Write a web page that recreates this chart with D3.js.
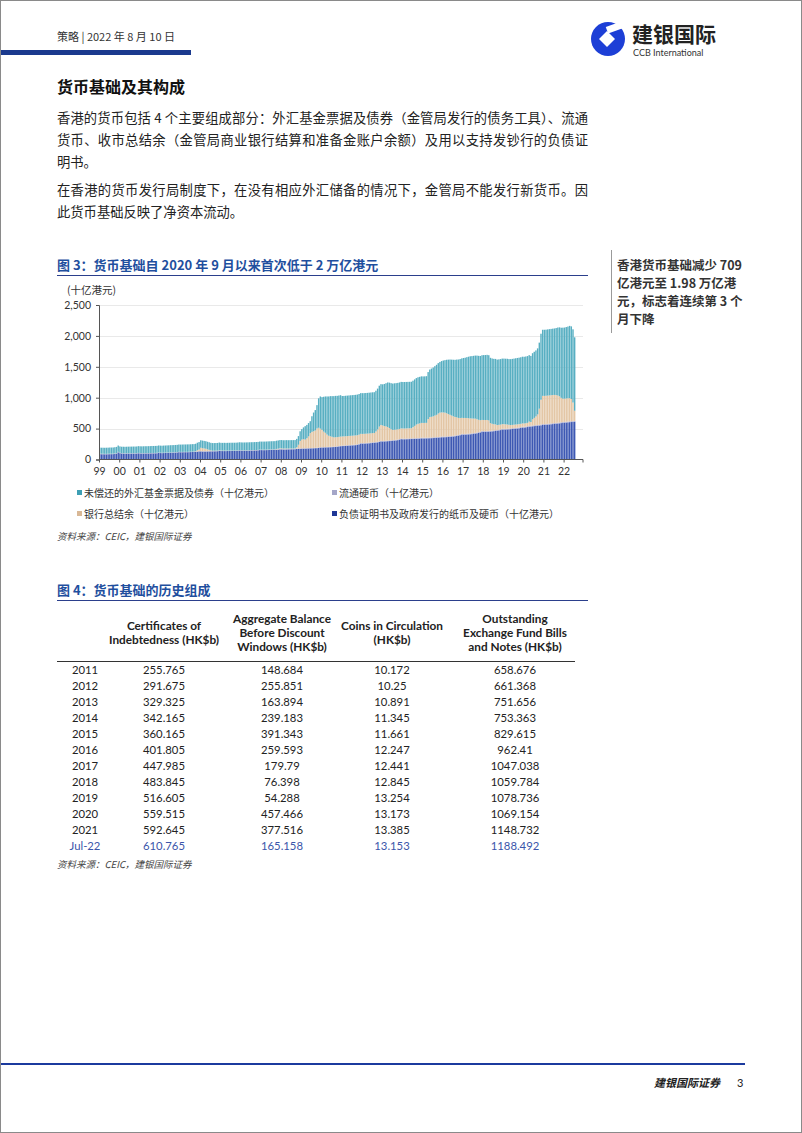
<!DOCTYPE html>
<html>
<head>
<meta charset="utf-8">
<script src="https://cdn.jsdelivr.net/npm/d3@7"></script>
<style>
  body { margin: 0; background: #fff; }
  svg { display: block; }
</style>
</head>
<body>
<svg id="page" width="802" height="1133"></svg>
<script>
// monthly series, Jan 1999 - Jul 2022 (HK$ bn)
const startYear = 1999;

const ciVals = [
  86,85,85,84,84,85,86,86,87,90,95,115,
  102,96,95,94,94,95,95,95,95,95,96,100,
  97,96,96,97,97,97,98,99,99,100,101,106,
  104,103,104,105,106,107,108,109,110,111,113,118,
  117,117,118,118,118,119,120,121,122,123,125,130,
  130,128,128,128,129,130,131,131,132,133,134,140,
  137,136,136,136,137,137,138,138,138,139,140,144,
  142,141,141,141,142,143,144,144,145,146,148,152,
  152,151,151,152,153,154,155,155,156,157,159,163,
  163,161,161,162,163,164,165,165,166,170,172,173,
  175,175,176,177,178,179,180,181,183,184,187,192,
  193,194,195,196,197,198,200,201,203,206,210,215,
  217,218,220,222,224,226,228,230,232,236,244,256,
  255,256,258,260,262,265,268,270,273,277,283,292,
  291,292,294,296,298,300,303,306,309,313,320,329,
  327,327,328,329,330,331,332,333,334,336,338,342,
  341,341,342,343,344,345,347,349,351,353,356,360,
  360,361,362,364,366,369,372,376,380,386,393,402,
  401,402,404,406,408,411,415,419,424,430,438,448,
  447,447,448,450,452,455,458,461,465,470,476,484,
  483,484,486,488,490,493,496,499,502,505,510,517,
  516,520,525,530,533,537,540,543,546,549,553,560,
  559,561,564,567,570,573,576,579,582,585,589,593,
  595,598,601,604,606,608,611
];

const coinVals = [
  5.9,5.8,5.8,5.8,5.8,5.8,5.8,5.8,5.8,5.8,5.9,6.1,
  5.9,5.8,5.8,5.8,5.8,5.8,5.8,5.8,5.8,5.8,5.8,5.9,
  5.8,5.8,5.8,5.8,5.8,5.8,5.8,5.8,5.8,5.8,5.8,5.9,
  5.8,5.8,5.8,5.8,5.8,5.8,5.8,5.8,5.8,5.8,5.8,5.9,
  5.8,5.8,5.8,5.8,5.8,5.8,5.8,5.9,5.9,5.9,5.9,6.0,
  6.0,5.9,5.9,5.9,5.9,5.9,5.9,5.9,5.9,6.0,6.0,6.1,
  6.0,6.0,6.0,6.0,6.0,6.0,6.0,6.0,6.0,6.0,6.1,6.2,
  6.1,6.1,6.1,6.1,6.1,6.1,6.1,6.1,6.1,6.2,6.2,6.3,
  6.2,6.2,6.2,6.2,6.2,6.3,6.3,6.3,6.3,6.4,6.4,6.5,
  6.4,6.4,6.4,6.4,6.4,6.5,6.5,6.5,6.5,6.6,6.6,6.7,
  6.6,6.6,6.6,6.6,6.7,6.7,6.7,6.7,6.8,6.8,6.9,7.0,
  7.0,7.0,7.1,7.1,7.2,7.3,7.4,7.5,7.6,7.8,8.0,8.3,
  8.4,8.5,8.6,8.7,8.9,9.0,9.2,9.4,9.6,9.8,10.0,10.2,
  10.2,10.2,10.2,10.2,10.2,10.2,10.2,10.2,10.2,10.2,10.2,10.3,
  10.3,10.3,10.4,10.4,10.5,10.5,10.6,10.6,10.7,10.7,10.8,10.9,
  10.9,10.9,11.0,11.0,11.0,11.1,11.1,11.2,11.2,11.3,11.3,11.3,
  11.3,11.3,11.3,11.4,11.4,11.4,11.5,11.5,11.5,11.6,11.6,11.7,
  11.7,11.7,11.8,11.8,11.9,11.9,12.0,12.0,12.1,12.1,12.2,12.2,
  12.2,12.2,12.2,12.3,12.3,12.3,12.3,12.4,12.4,12.4,12.4,12.4,
  12.4,12.4,12.5,12.5,12.5,12.6,12.6,12.6,12.7,12.7,12.8,12.8,
  12.8,12.8,12.9,12.9,12.9,13.0,13.0,13.1,13.1,13.1,13.2,13.3,
  13.2,13.2,13.2,13.2,13.2,13.2,13.2,13.2,13.2,13.2,13.2,13.2,
  13.2,13.2,13.2,13.2,13.3,13.3,13.3,13.3,13.3,13.3,13.4,13.4,
  13.3,13.3,13.2,13.2,13.2,13.2,13.2
];

const abVals = [
  2.5,3,2,2,2,2,2,2,2,2,2,3,
  1,1,1,1,1,1,1,1,1,1,1,1,
  1,1,1,1,1,1,1,1,1,1,1,1,
  0.5,0.5,0.5,0.5,0.5,0.5,0.5,0.5,0.5,0.5,0.5,0.5,
  0.5,0.5,0.5,0.5,0.5,0.5,0.5,0.5,0.5,5,20,25,
  54,50,45,40,30,20,10,6,5,4,4,4,
  3,3,3,2,2,1.5,1.5,1.5,1.5,1.5,1.5,1.5,
  1.5,1.5,1.5,1.5,1.5,1.5,1.5,1.5,1.5,1.5,1.5,2,
  1.5,2,2,2,2,2,2,2,2,8,10,11,
  11,10,10,10,8,7,6,6,6,20,60,120,
  140,150,140,160,190,240,260,270,280,310,320,300,
  280,250,230,200,180,170,160,150,150,148,148,148,
  148,148,148,148,148,148,148,148,148,148,148,149,
  149,149,149,149,149,149,149,149,170,200,240,256,
  250,240,230,220,200,180,165,165,165,165,164,164,
  164,164,164,164,164,164,180,200,220,230,235,239,
  239,240,240,300,330,335,340,350,360,380,391,391,
  390,385,375,360,345,330,315,300,290,275,265,260,
  259,258,255,250,245,240,235,230,215,200,185,180,
  180,179,179,170,125,110,100,95,80,78,76,76,
  76,72,68,60,55,54,54,54,54,54,54,54,
  54,54,55,70,60,100,120,140,170,260,400,457,
  457,457,457,457,457,457,456,450,440,425,395,378,
  377,377,377,375,360,300,165
];

const efVals = [
  97,97,98,98,99,99,100,100,100,101,101,102,
  103,104,105,105,106,106,107,107,108,108,108,109,
  110,110,111,111,111,112,112,113,113,113,113,114,
  114,114,115,115,116,116,117,117,117,118,118,118,
  118,119,119,119,120,120,120,121,121,121,121,121,
  121,122,122,122,122,123,123,123,123,124,124,124,
  124,124,125,125,125,126,126,126,126,126,127,127,
  127,127,127,128,128,128,128,129,129,129,129,130,
  130,131,131,131,132,132,132,133,133,133,133,134,
  134,134,135,135,135,136,136,136,136,137,140,157,
  170,188,217,216,215,194,253,302,330,379,476,521,
  530,564,588,617,636,650,658,667,669,668,669,669,
  654,654,655,655,656,656,656,657,657,657,658,659,
  659,659,659,659,660,660,660,660,660,660,661,661,
  665,680,700,720,735,745,750,751,751,751,752,752,
  752,752,752,752,752,752,752,752,752,753,753,753,
  753,753,755,760,770,780,790,800,810,815,820,830,
  840,850,865,880,895,905,915,925,935,945,955,962,
  970,975,985,995,1005,1010,1015,1020,1030,1035,1040,1047,
  1050,1052,1054,1055,1056,1057,1058,1059,1059,1060,1060,1060,
  1061,1062,1063,1064,1066,1068,1070,1072,1074,1076,1077,1079,
  1079,1080,1080,1075,1070,1070,1070,1069,1069,1069,1069,1069,
  1070,1070,1071,1072,1073,1074,1075,1085,1100,1115,1135,1149,
  1150,1155,1160,1170,1175,1185,1188
];

const yTicks = [0, 500, 1000, 1500, 2000, 2500];
const yearLabels = ["99","00","01","02","03","04","05","06","07","08","09","10",
  "11","12","13","14","15","16","17","18","19","20","21","22"];

const seriesNames = ["负债证明书及政府发行的纸币及硬币（十亿港元）", "流通硬币（十亿港元）",
  "银行总结余（十亿港元）", "未偿还的外汇基金票据及债券（十亿港元）"];

// table (fig 4)
const tblYears = ["2011","2012","2013","2014","2015","2016","2017","2018","2019","2020","2021","Jul-22"];
const tblCI = ["255.765","291.675","329.325","342.165","360.165","401.805","447.985","483.845","516.605","559.515","592.645","610.765"];
const tblAB = ["148.684","255.851","163.894","239.183","391.343","259.593","179.79","76.398","54.288","457.466","377.516","165.158"];
const tblCoins = ["10.172","10.25","10.891","11.345","11.661","12.247","12.441","12.845","13.254","13.173","13.385","13.153"];
const tblEF = ["658.676","661.368","751.656","753.363","829.615","962.41","1047.038","1059.784","1078.736","1069.154","1148.732","1188.492"];

const CJK = "'Noto Sans CJK SC', 'Noto Sans', sans-serif";
const LAT = "Lato, 'Noto Sans', sans-serif";
const BLUE = "#1f4f9e";

const svg = d3.select("#page");

function txt(x, y, s, opt) {
  opt = opt || {};
  const t = svg.append("text")
    .attr("x", x).attr("y", y)
    .attr("font-family", opt.font || CJK)
    .attr("font-size", opt.size || 12)
    .attr("fill", opt.color || "#222")
    .attr("text-anchor", opt.anchor || "start")
    .text(s);
  if (opt.weight) t.attr("font-weight", opt.weight);
  if (opt.italic) t.attr("font-style", "italic");
  if (opt.len) t.attr("textLength", opt.len).attr("lengthAdjust", "spacing");
  return t;
}

// page frame
svg.append("rect").attr("x", 0.5).attr("y", 0.5).attr("width", 801).attr("height", 1132)
  .attr("fill", "none").attr("stroke", "#8a8a8a");

// ---- header ----
txt(57, 41, "策略 | 2022 年 8 月 10 日", {size: 11, color: "#333"}).attr("xml:space", "preserve");
svg.append("rect").attr("x", 1).attr("y", 50).attr("width", 190).attr("height", 5).attr("fill", "#1b3a8e");

// logo, rough
const logo = svg.append("g").attr("transform", "translate(608,39)");
logo.append("circle").attr("r", 17).attr("fill", "#1d3fd6");
logo.append("path").attr("d", "M-1,-8 L7,0 L-1,8 L-9,0 Z").attr("fill", "#fff");
logo.append("rect").attr("x", 2).attr("y", -12).attr("width", 17).attr("height", 7).attr("fill", "#fff")
  .attr("transform", "rotate(-20)");
txt(632, 42, "建银国际", {size: 21, weight: "bold", color: "#222"});
txt(633, 56, "CCB International", {size: 9, font: LAT, color: "#333"});

// ---- intro text ----
txt(57, 93, "货币基础及其构成", {size: 16, weight: "bold", color: "#111"});
txt(57, 123, "香港的货币包括 4 个主要组成部分：外汇基金票据及债券（金管局发行的债务工具）、流通", {size: 13.3, len: 531, color: "#222"});
txt(57, 145, "货币、收市总结余（金管局商业银行结算和准备金账户余额）及用以支持发钞行的负债证", {size: 13.3, len: 531, color: "#222"});
txt(57, 167, "明书。", {size: 13.3, color: "#222"});
txt(57, 195, "在香港的货币发行局制度下，在没有相应外汇储备的情况下，金管局不能发行新货币。因", {size: 13.3, len: 531, color: "#222"});
txt(57, 217, "此货币基础反映了净资本流动。", {size: 13.3, color: "#222"});

// ---- fig 3 ----
txt(57, 270, "图 3：货币基础自 2020 年 9 月以来首次低于 2 万亿港元", {size: 13, weight: "bold", color: BLUE});
svg.append("line").attr("x1", 57).attr("x2", 588).attr("y1", 275.5).attr("y2", 275.5)
  .attr("stroke", "#2b3f8c").attr("stroke-width", 1.2);
txt(67, 294, "(十亿港元)", {size: 10.5, color: "#333"});

// side note
svg.append("line").attr("x1", 611.5).attr("x2", 611.5).attr("y1", 250).attr("y2", 333)
  .attr("stroke", "#9a9a9a");
["香港货币基础减少 709", "亿港元至 1.98 万亿港", "元，标志着连续第 3 个", "月下降"].forEach((s, i) => {
  txt(617, 270 + i * 18, s, {size: 12.5, weight: "bold", color: "#333"});
});

const plot = {left: 99, right: 583, top: 305, bottom: 459.5};
const nMonths = ciVals.length;
const monthW = 20.2 / 12;

const rows = d3.range(nMonths).map(i => ({
  i: i, ci: ciVals[i], coin: coinVals[i], ab: abVals[i], ef: efVals[i]
}));
const keys = ["ci", "coin", "ab", "ef"];
const colors = {ci: "#3d58b3", coin: "#a7a9cc", ab: "#e3c6a5", ef: "#58afc2"};
const legendColors = {ci: "#1f3796", coin: "#a4a6c8", ab: "#d9b896", ef: "#3d9fb4"};

const x = d3.scaleBand()
  .domain(d3.range(nMonths))
  .range([plot.left, plot.left + nMonths * monthW])
  .paddingInner(0.16);
const y = d3.scaleLinear().domain([0, 2500]).range([plot.bottom, plot.top]);

// grid
svg.append("g").selectAll("line").data(yTicks.slice(1)).join("line")
  .attr("x1", plot.left).attr("x2", plot.right)
  .attr("y1", d => Math.round(y(d)) + 0.5).attr("y2", d => Math.round(y(d)) + 0.5)
  .attr("stroke", "#e9e9e9");

const stacked = d3.stack().keys(keys)(rows);
svg.append("g").selectAll("g").data(stacked).join("g")
  .attr("fill", d => colors[d.key])
  .selectAll("rect").data(d => d).join("rect")
  .attr("x", d => x(d.data.i))
  .attr("width", x.bandwidth())
  .attr("y", d => y(d[1]))
  .attr("height", d => Math.max(0, y(d[0]) - y(d[1])));

// y axis
const yAxis = svg.append("g").attr("transform", `translate(${plot.left},0)`)
  .call(d3.axisLeft(y).tickValues(yTicks).tickSize(3).tickFormat(d3.format(",")));
yAxis.select(".domain").attr("stroke", "#555");
yAxis.selectAll(".tick line").attr("stroke", "#555");
yAxis.selectAll("text").attr("font-family", LAT).attr("font-size", 10.5).attr("fill", "#333").attr("dx", "-2");

// x axis - ticks on january of each year
const xYear = d3.scaleLinear().domain([0, yearLabels.length]).range([plot.left, plot.left + yearLabels.length * 20.2]);
const xAxis = svg.append("g").attr("transform", `translate(0,${plot.bottom})`)
  .call(d3.axisBottom(xYear).tickValues(d3.range(yearLabels.length)).tickSize(3)
    .tickFormat(i => yearLabels[i]));
xAxis.select(".domain").remove();
xAxis.append("line").attr("x1", plot.left).attr("x2", plot.right).attr("stroke", "#555");
xAxis.append("line").attr("x1", plot.right).attr("x2", plot.right).attr("y2", 3).attr("stroke", "#555");
xAxis.selectAll(".tick line").attr("stroke", "#555");
xAxis.selectAll("text").attr("font-family", LAT).attr("font-size", 10.5).attr("fill", "#333").attr("dy", "0.9em");

// legend
const legendItems = [
  {key: "ef", x: 77, y: 493}, {key: "coin", x: 332, y: 493},
  {key: "ab", x: 77, y: 514}, {key: "ci", x: 332, y: 514}
];
const nameOf = {ci: seriesNames[0], coin: seriesNames[1], ab: seriesNames[2], ef: seriesNames[3]};
legendItems.forEach(it => {
  svg.append("rect").attr("x", it.x).attr("y", it.y - 3).attr("width", 5).attr("height", 5)
    .attr("fill", legendColors[it.key]);
  txt(it.x + 7, it.y + 4, nameOf[it.key], {size: 10, color: "#333"});
});
txt(57, 540, "资料来源：CEIC，建银国际证券", {size: 9.5, italic: true, color: "#444"});

// ---- fig 4 table ----
txt(57, 595, "图 4：货币基础的历史组成", {size: 13, weight: "bold", color: BLUE});
svg.append("line").attr("x1", 57).attr("x2", 588).attr("y1", 600.5).attr("y2", 600.5)
  .attr("stroke", "#2b3f8c").attr("stroke-width", 1.2);

const colX = [85, 164, 282, 392, 515];
const headers = [
  [],
  ["Certificates of", "Indebtedness (HK$b)"],
  ["Aggregate Balance", "Before Discount", "Windows (HK$b)"],
  ["Coins in Circulation", "(HK$b)"],
  ["Outstanding", "Exchange Fund Bills", "and Notes (HK$b)"]
];
headers.forEach((lines, c) => {
  const y0 = lines.length === 3 ? 623 : 630;
  lines.forEach((s, k) => {
    txt(colX[c], y0 + k * 14, s, {size: 11.8, weight: "bold", font: LAT, anchor: "middle", color: "#222"});
  });
});
svg.append("line").attr("x1", 57).attr("x2", 575).attr("y1", 661.5).attr("y2", 661.5)
  .attr("stroke", "#333").attr("stroke-width", 1);

tblYears.forEach((yr, r) => {
  const yy = 674 + r * 16;
  const col = r === tblYears.length - 1 ? "#3a55aa" : "#222";
  [yr, tblCI[r], tblAB[r], tblCoins[r], tblEF[r]].forEach((v, c) => {
    txt(colX[c], yy, v, {size: 11.3, font: LAT, anchor: "middle", color: col});
  });
});
txt(57, 868, "资料来源：CEIC，建银国际证券", {size: 9.5, italic: true, color: "#444"});

// ---- footer ----
svg.append("line").attr("x1", 1).attr("x2", 745).attr("y1", 1064).attr("y2", 1064)
  .attr("stroke", "#1b3a9e").attr("stroke-width", 2);
txt(720, 1087, "建银国际证券", {size: 11, italic: true, weight: "bold", anchor: "end", color: "#222"});
txt(737, 1087, "3", {size: 11, font: LAT, color: "#222"});
</script>
</body>
</html>
